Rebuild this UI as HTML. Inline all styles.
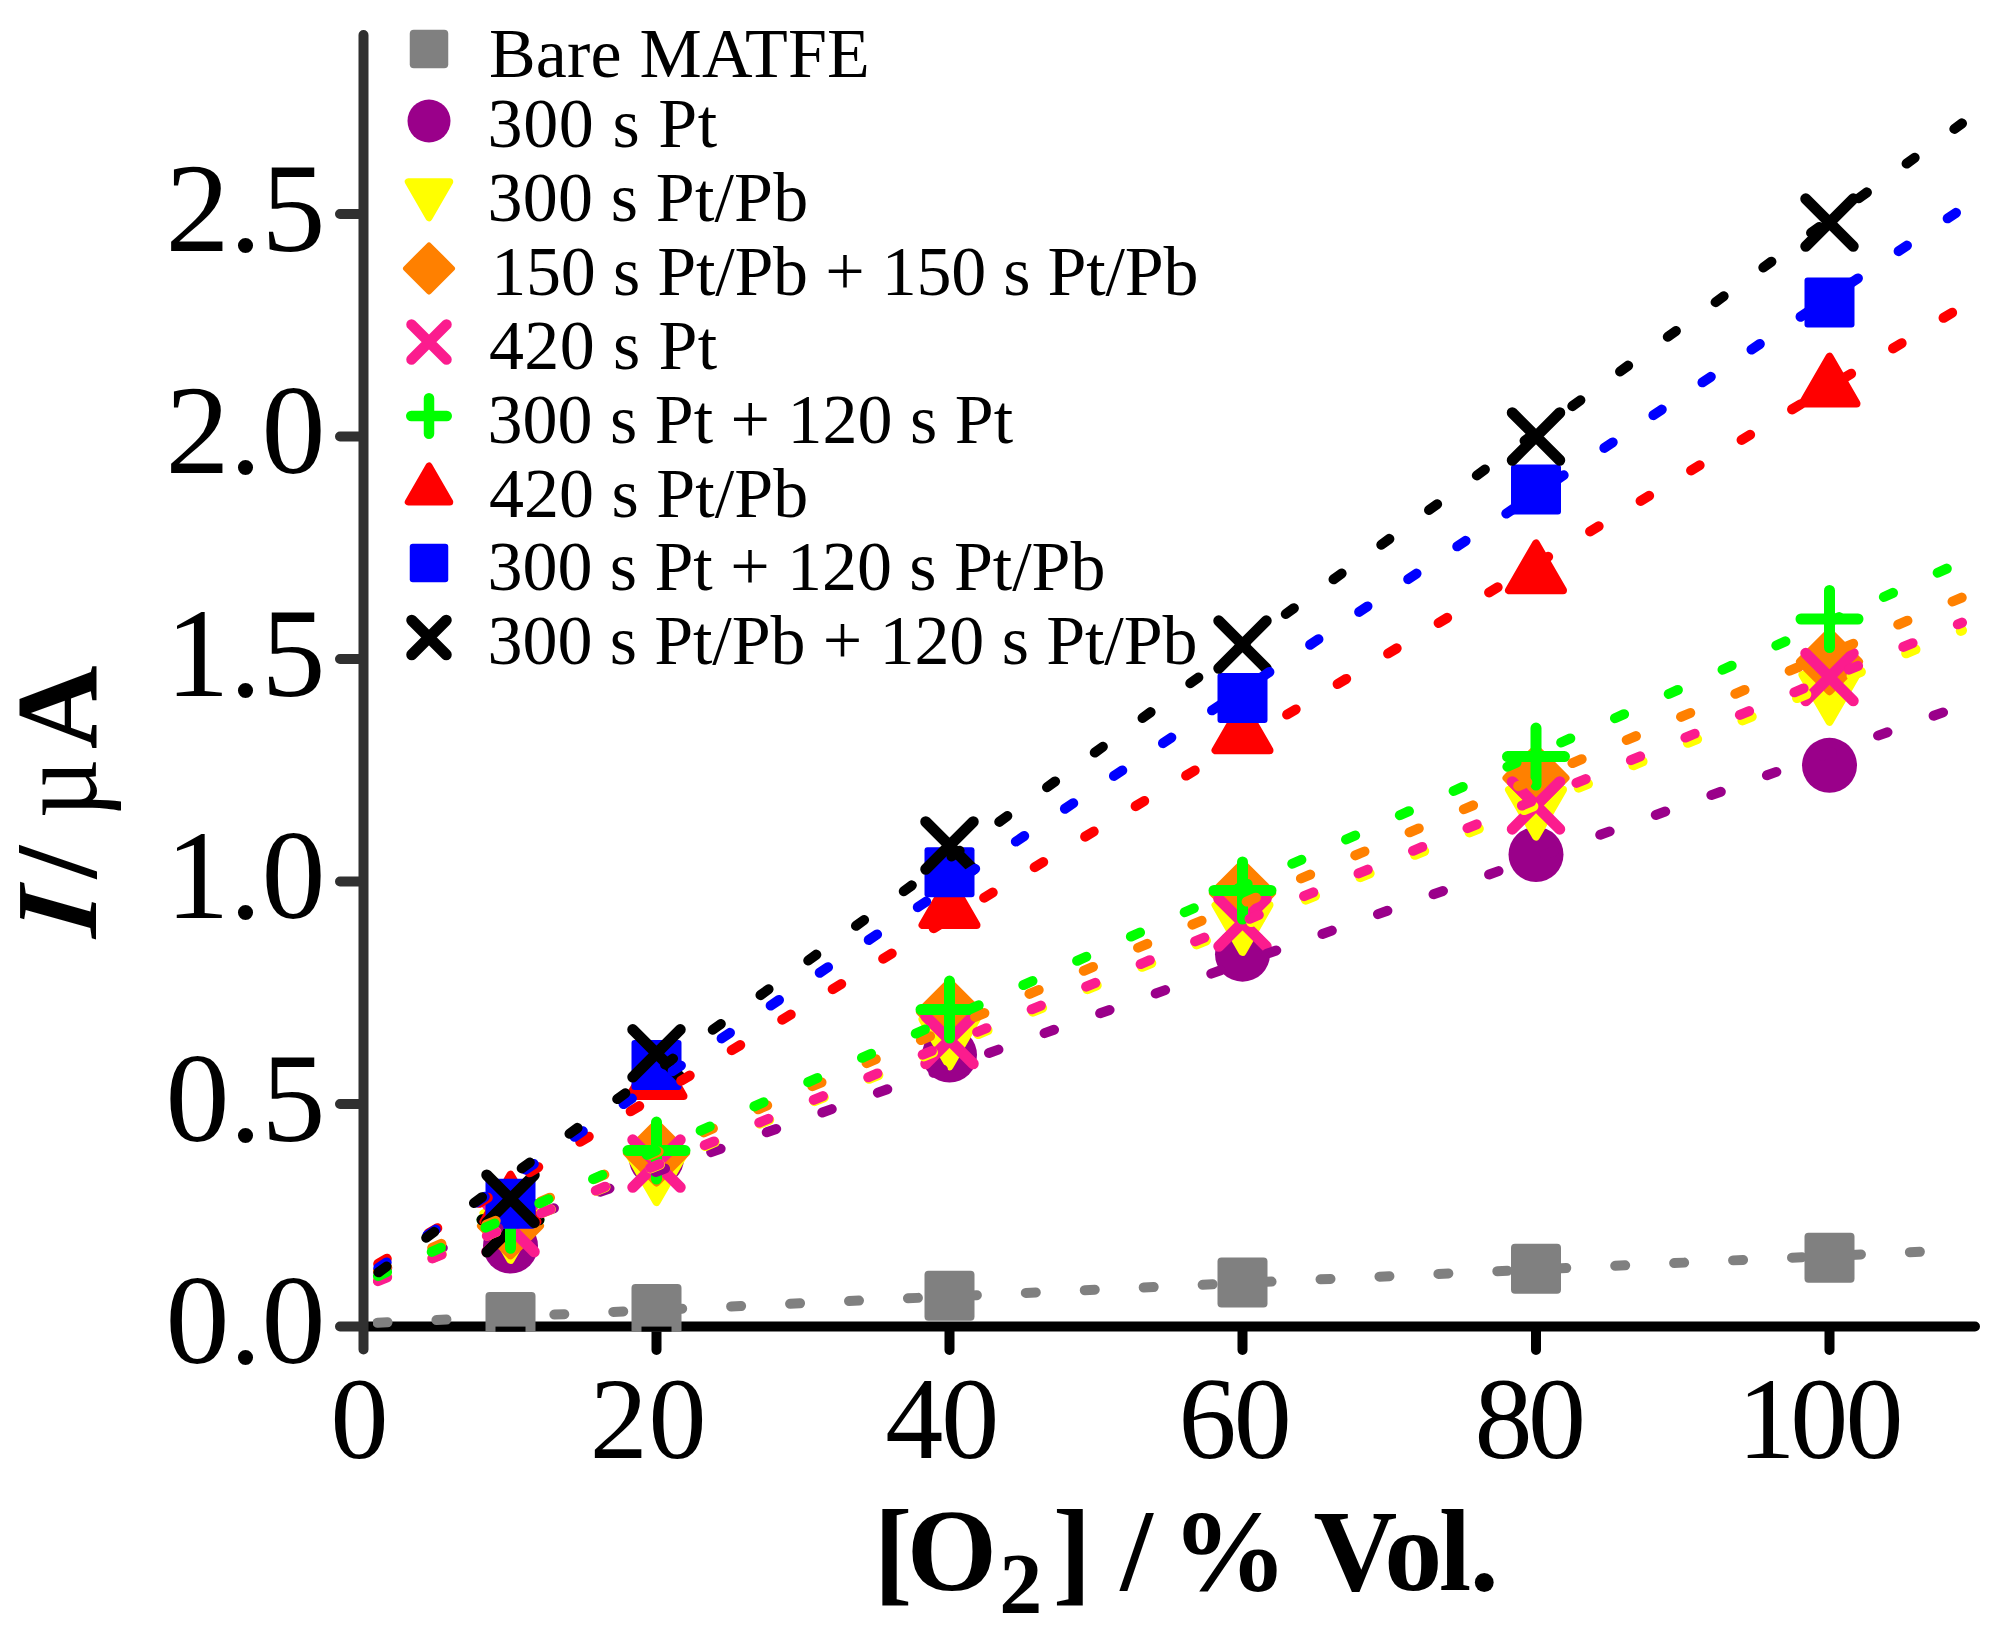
<!DOCTYPE html>
<html lang="en"><head><meta charset="utf-8"><title>I / µA vs [O2] / % Vol.</title>
<style>html,body{margin:0;padding:0;background:#fff;}body{width:2010px;height:1634px;overflow:hidden;}svg{display:block;}text{font-family:'Liberation Serif', serif;fill:#000;}</style>
</head><body>
<svg width="2010" height="1634" viewBox="0 0 2010 1634">
<rect width="2010" height="1634" fill="#fff"/>
<g id="axes" fill="none" stroke-linecap="round" stroke-width="10">
<path d="M363.5 1326.5H1975M656.5 1326.5V1350M949.5 1326.5V1350M1242.5 1326.5V1350M1536 1326.5V1350M1829.5 1326.5V1350" stroke="#000000"/>
<path d="M363.5 35V1349.5M363.5 1326.5H340M363.5 1104H340M363.5 881.5H340M363.5 659H340M363.5 436.5H340M363.5 214H340" stroke="#303030"/>
</g>
<g id="yticks" font-size="128" text-anchor="end">
<text x="325.6" y="1363.1">0.0</text>
<text x="325.6" y="1140.6">0.5</text>
<text x="325.6" y="918.1">1.0</text>
<text x="325.6" y="695.6">1.5</text>
<text x="325.6" y="473.1">2.0</text>
<text x="325.6" y="250.6">2.5</text>
</g>
<g id="xticks" font-size="116">
<text x="330.4" y="1458.2">0</text>
<text x="589.7 648.6" y="1458.2">20</text>
<text x="885.2 941.3" y="1458.2">40</text>
<text x="1178.5 1233.7" y="1458.2">60</text>
<text x="1474.5 1528" y="1458.2">80</text>
<text x="1737.6 1790.2 1845.4" y="1458.2">100</text>
</g>
<text id="xtitle" y="1589.7" font-size="116" font-weight="bold"><tspan x="873.7">[</tspan><tspan x="906.8">O</tspan><tspan x="999.3" dy="23.3" font-size="86">2</tspan><tspan x="1052.8" dy="-23.3">]</tspan><tspan x="1091.4"> </tspan><tspan x="1120.5">/</tspan><tspan x="1152.7"> </tspan><tspan x="1171.6">%</tspan><tspan x="1287.6"> </tspan><tspan x="1313.5">V</tspan><tspan x="1384.3">o</tspan><tspan x="1439">l</tspan><tspan x="1469.7">.</tspan></text>
<g id="ytitle" transform="translate(96.3 941) rotate(-90)" font-size="116" font-weight="bold"><text transform="skewX(-6)" x="2.8" y="0" font-style="italic">I</text><text y="0"><tspan x="51.5"> </tspan><tspan x="62.65">/</tspan><tspan x="95"> </tspan></text><text transform="translate(122.75 0) scale(0.89 1)" x="0" y="0" font-weight="normal">µ</text><text x="191.8" y="0">A</text></g>
<defs><clipPath id="plotclip"><rect x="0" y="0" width="2010" height="1331.5"/></clipPath></defs>
<g id="markers">
<g clip-path="url(#plotclip)">
<rect x="485.5" y="1292.1" width="50" height="50" rx="4" fill="#808080"/>
<rect x="631.5" y="1283.9" width="50" height="50" rx="4" fill="#808080"/>
<rect x="924.5" y="1270.7" width="50" height="50" rx="4" fill="#808080"/>
<rect x="1217.5" y="1257.5" width="50" height="50" rx="4" fill="#808080"/>
<rect x="1511" y="1243.7" width="50" height="50" rx="4" fill="#808080"/>
<rect x="1804.5" y="1232.7" width="50" height="50" rx="4" fill="#808080"/>
</g>
<rect x="495.5" y="1326.6" width="30" height="5" fill="#000"/>
<rect x="641.5" y="1326.6" width="30" height="5" fill="#000"/>
<circle cx="510.5" cy="1246" r="27.5" fill="#9a008a"/>
<circle cx="656.5" cy="1158.4" r="27.5" fill="#9a008a"/>
<circle cx="949.5" cy="1055" r="27.5" fill="#9a008a"/>
<circle cx="1242.5" cy="954.2" r="27.5" fill="#9a008a"/>
<circle cx="1536" cy="854.5" r="27.5" fill="#9a008a"/>
<circle cx="1829.5" cy="765.3" r="27.5" fill="#9a008a"/>
<polygon points="510.5,1259.88 483.5,1213.11 537.5,1213.11" fill="#ffff00" stroke="#ffff00" stroke-width="8" stroke-linejoin="round"/>
<polygon points="656.5,1202.08 629.5,1155.31 683.5,1155.31" fill="#ffff00" stroke="#ffff00" stroke-width="8" stroke-linejoin="round"/>
<polygon points="949.5,1066.18 922.5,1019.41 976.5,1019.41" fill="#ffff00" stroke="#ffff00" stroke-width="8" stroke-linejoin="round"/>
<polygon points="1242.5,951.88 1215.5,905.11 1269.5,905.11" fill="#ffff00" stroke="#ffff00" stroke-width="8" stroke-linejoin="round"/>
<polygon points="1536,836.58 1509,789.81 1563,789.81" fill="#ffff00" stroke="#ffff00" stroke-width="8" stroke-linejoin="round"/>
<polygon points="1829.5,721.68 1802.5,674.91 1856.5,674.91" fill="#ffff00" stroke="#ffff00" stroke-width="8" stroke-linejoin="round"/>
<polygon points="510.5,1196.3 540,1225.8 510.5,1255.3 481,1225.8" fill="#ff8000" stroke="#ff8000" stroke-width="8" stroke-linejoin="round"/>
<polygon points="656.5,1123.5 686,1153 656.5,1182.5 627,1153" fill="#ff8000" stroke="#ff8000" stroke-width="8" stroke-linejoin="round"/>
<polygon points="949.5,982.3 979,1011.8 949.5,1041.3 920,1011.8" fill="#ff8000" stroke="#ff8000" stroke-width="8" stroke-linejoin="round"/>
<polygon points="1242.5,863.5 1272,893 1242.5,922.5 1213,893" fill="#ff8000" stroke="#ff8000" stroke-width="8" stroke-linejoin="round"/>
<polygon points="1536,748.5 1565.5,778 1536,807.5 1506.5,778" fill="#ff8000" stroke="#ff8000" stroke-width="8" stroke-linejoin="round"/>
<polygon points="1829.5,632.2 1859,661.7 1829.5,691.2 1800,661.7" fill="#ff8000" stroke="#ff8000" stroke-width="8" stroke-linejoin="round"/>
<path d="M486.75 1204.25L534.25 1251.75M486.75 1251.75L534.25 1204.25" stroke="#fb1c8e" stroke-width="11" stroke-linecap="round" fill="none"/>
<path d="M632.75 1139.85L680.25 1187.35M632.75 1187.35L680.25 1139.85" stroke="#fb1c8e" stroke-width="11" stroke-linecap="round" fill="none"/>
<path d="M925.75 1016.25L973.25 1063.75M925.75 1063.75L973.25 1016.25" stroke="#fb1c8e" stroke-width="11" stroke-linecap="round" fill="none"/>
<path d="M1218.75 898.85L1266.25 946.35M1218.75 946.35L1266.25 898.85" stroke="#fb1c8e" stroke-width="11" stroke-linecap="round" fill="none"/>
<path d="M1512.25 781.65L1559.75 829.15M1512.25 829.15L1559.75 781.65" stroke="#fb1c8e" stroke-width="11" stroke-linecap="round" fill="none"/>
<path d="M1805.75 653.35L1853.25 700.85M1805.75 700.85L1853.25 653.35" stroke="#fb1c8e" stroke-width="11" stroke-linecap="round" fill="none"/>
<path d="M487 1252L505 1234" stroke="#000" stroke-width="11" stroke-linecap="round" fill="none"/>
<path d="M482 1219.8L539 1219.8M510.5 1191.3L510.5 1248.3" stroke="#00ff00" stroke-width="11" stroke-linecap="round" fill="none"/>
<path d="M628 1150.6L685 1150.6M656.5 1122.1L656.5 1179.1" stroke="#00ff00" stroke-width="11" stroke-linecap="round" fill="none"/>
<path d="M921 1009.6L978 1009.6M949.5 981.1L949.5 1038.1" stroke="#00ff00" stroke-width="11" stroke-linecap="round" fill="none"/>
<path d="M1214 890.5L1271 890.5M1242.5 862L1242.5 919" stroke="#00ff00" stroke-width="11" stroke-linecap="round" fill="none"/>
<path d="M1507.5 756.6L1564.5 756.6M1536 728.1L1536 785.1" stroke="#00ff00" stroke-width="11" stroke-linecap="round" fill="none"/>
<path d="M1801 619L1858 619M1829.5 590.5L1829.5 647.5" stroke="#00ff00" stroke-width="11" stroke-linecap="round" fill="none"/>
<path d="M482 1219.8H539" stroke="#000" stroke-width="11" stroke-linecap="round" fill="none"/>
<polygon points="510.5,1174.72 483.5,1221.49 537.5,1221.49" fill="#ff0000" stroke="#ff0000" stroke-width="8" stroke-linejoin="round"/>
<polygon points="656.5,1049.12 629.5,1095.89 683.5,1095.89" fill="#ff0000" stroke="#ff0000" stroke-width="8" stroke-linejoin="round"/>
<polygon points="949.5,878.22 922.5,924.99 976.5,924.99" fill="#ff0000" stroke="#ff0000" stroke-width="8" stroke-linejoin="round"/>
<polygon points="1242.5,703.42 1215.5,750.19 1269.5,750.19" fill="#ff0000" stroke="#ff0000" stroke-width="8" stroke-linejoin="round"/>
<polygon points="1536,543.52 1509,590.29 1563,590.29" fill="#ff0000" stroke="#ff0000" stroke-width="8" stroke-linejoin="round"/>
<polygon points="1829.5,356.82 1802.5,403.59 1856.5,403.59" fill="#ff0000" stroke="#ff0000" stroke-width="8" stroke-linejoin="round"/>
<rect x="485.5" y="1178.8" width="50" height="50" rx="3" fill="#0000ff"/>
<rect x="631.5" y="1040" width="50" height="50" rx="3" fill="#0000ff"/>
<rect x="924.5" y="847.3" width="50" height="50" rx="3" fill="#0000ff"/>
<rect x="1217.5" y="673" width="50" height="50" rx="3" fill="#0000ff"/>
<rect x="1511" y="464.4" width="50" height="50" rx="3" fill="#0000ff"/>
<rect x="1804.5" y="277.5" width="50" height="50" rx="3" fill="#0000ff"/>
<path d="M486.75 1175L534.25 1222.5M486.75 1222.5L534.25 1175" stroke="#000000" stroke-width="11" stroke-linecap="round" fill="none"/>
<path d="M632.75 1029.55L680.25 1077.05M632.75 1077.05L680.25 1029.55" stroke="#000000" stroke-width="11" stroke-linecap="round" fill="none"/>
<path d="M925.75 821.75L973.25 869.25M925.75 869.25L973.25 821.75" stroke="#000000" stroke-width="11" stroke-linecap="round" fill="none"/>
<path d="M1218.75 620.85L1266.25 668.35M1218.75 668.35L1266.25 620.85" stroke="#000000" stroke-width="11" stroke-linecap="round" fill="none"/>
<path d="M1512.25 412.75L1559.75 460.25M1512.25 460.25L1559.75 412.75" stroke="#000000" stroke-width="11" stroke-linecap="round" fill="none"/>
<path d="M1805.75 198.85L1853.25 246.35M1805.75 246.35L1853.25 198.85" stroke="#000000" stroke-width="11" stroke-linecap="round" fill="none"/>
</g>
<defs><clipPath id="fitclip"><rect x="373" y="0" width="1637" height="1634"/></clipPath></defs>
<g id="fits" fill="none" stroke-width="10" stroke-linecap="round" stroke-dasharray="10 49" clip-path="url(#fitclip)">
<path d="M377.51 1322.74L1962 1249.84" stroke="#808080"/>
<path d="M377.79 1271.17L1962 705.63" stroke="#9a008a"/>
<path d="M377.87 1280.4L1962 630.37" stroke="#ffff00"/>
<path d="M377.9 1270.87L1962 597.48" stroke="#ff8000"/>
<path d="M377.88 1281.12L1962 622.6" stroke="#fb1c8e"/>
<path d="M377.94 1276.16L1962 561.75" stroke="#00ff00"/>
<path d="M378.22 1263.89L1962 306.7" stroke="#ff0000"/>
<path d="M378.34 1267.98L1962 208.77" stroke="#0000ff"/>
<path d="M378.45 1272.34L1962 123.38" stroke="#000000"/>
</g>
<g id="legend">
<rect x="409.75" y="29.75" width="38.5" height="38.5" rx="4" fill="#808080"/>
<circle cx="429" cy="121" r="21.5" fill="#9a008a"/>
<polygon points="429,217.76 408.25,181.82 449.75,181.82" fill="#ffff00" stroke="#ffff00" stroke-width="7" stroke-linejoin="round"/>
<polygon points="429,245.5 452,268.5 429,291.5 406,268.5" fill="#ff8000" stroke="#ff8000" stroke-width="6" stroke-linejoin="round"/>
<path d="M411.5 324.5L446.5 359.5M411.5 359.5L446.5 324.5" stroke="#fb1c8e" stroke-width="10.5" stroke-linecap="round" fill="none"/>
<path d="M411.25 416L446.75 416M429 398.25L429 433.75" stroke="#00ff00" stroke-width="10.5" stroke-linecap="round" fill="none"/>
<polygon points="429,466.04 408.25,501.98 449.75,501.98" fill="#ff0000" stroke="#ff0000" stroke-width="7" stroke-linejoin="round"/>
<rect x="409.75" y="543.75" width="38.5" height="38.5" rx="3" fill="#0000ff"/>
<path d="M411.75 620.25L446.25 654.75M411.75 654.75L446.25 620.25" stroke="#000000" stroke-width="11" stroke-linecap="round" fill="none"/>
<g font-size="70">
<text x="488.9" y="76.7" textLength="380.9">Bare MATFE</text>
<text x="487.6" y="146.9" textLength="229.7">300 s Pt</text>
<text x="487.6" y="220.5" textLength="320.6">300 s Pt/Pb</text>
<text x="491.3" y="294.9" textLength="707.2">150 s Pt/Pb + 150 s Pt/Pb</text>
<text x="488.9" y="369.2" textLength="228.4">420 s Pt</text>
<text x="487.6" y="442.9" textLength="525.5">300 s Pt + 120 s Pt</text>
<text x="488.9" y="516.7" textLength="319.3">420 s Pt/Pb</text>
<text x="487.6" y="590.4" textLength="617.9">300 s Pt + 120 s Pt/Pb</text>
<text x="487.6" y="663.7" textLength="709.9">300 s Pt/Pb + 120 s Pt/Pb</text>
</g></g>
</svg>
</body></html>
